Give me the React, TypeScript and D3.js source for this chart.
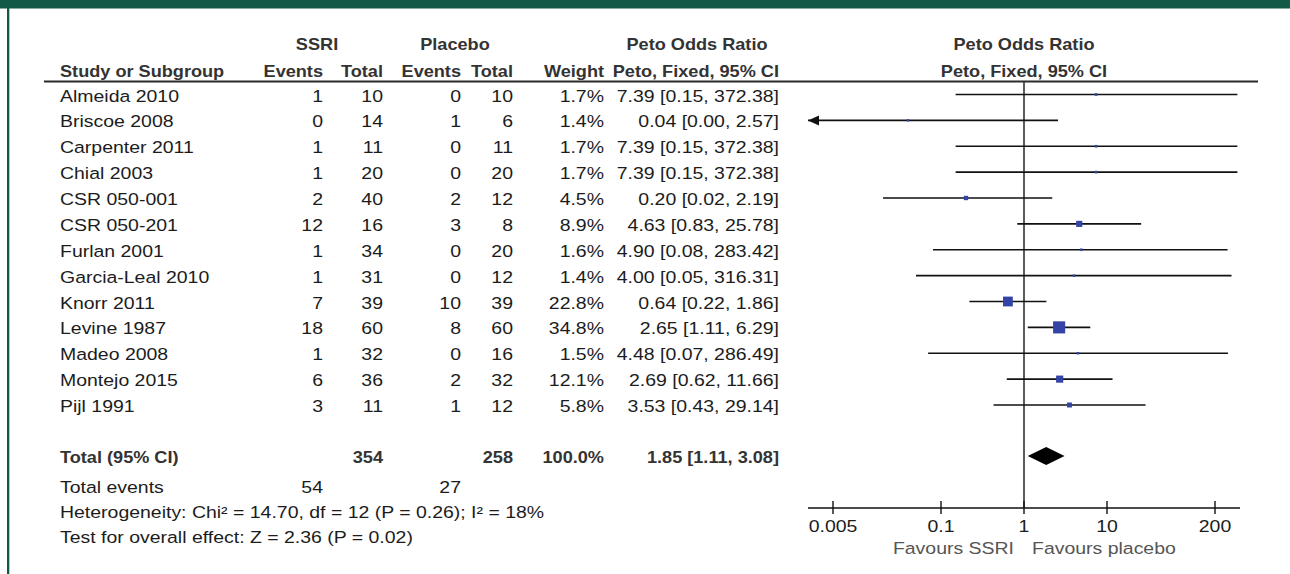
import React from 'react';
import * as d3 from 'd3';

const studies = [
  'Almeida 2010', 'Briscoe 2008', 'Carpenter 2011', 'Chial 2003', 'CSR 050-001', 'CSR 050-201',
  'Furlan 2001', 'Garcia-Leal 2010', 'Knorr 2011', 'Levine 1987', 'Madeo 2008', 'Montejo 2015', 'Pijl 1991',
];
const ssriEvents = [1, 0, 1, 1, 2, 12, 1, 1, 7, 18, 1, 6, 3];
const ssriTotal = [10, 14, 11, 20, 40, 16, 34, 31, 39, 60, 32, 36, 11];
const placeboEvents = [0, 1, 0, 0, 2, 3, 0, 0, 10, 8, 0, 2, 1];
const placeboTotal = [10, 6, 11, 20, 12, 8, 20, 12, 39, 60, 16, 32, 12];
const weights = [1.7, 1.4, 1.7, 1.7, 4.5, 8.9, 1.6, 1.4, 22.8, 34.8, 1.5, 12.1, 5.8];
const orEst = [7.39, 0.04, 7.39, 7.39, 0.2, 4.63, 4.9, 4.0, 0.64, 2.65, 4.48, 2.69, 3.53];
const orLow = [0.15, 0.0, 0.15, 0.15, 0.02, 0.83, 0.08, 0.05, 0.22, 1.11, 0.07, 0.62, 0.43];
const orHigh = [372.38, 2.57, 372.38, 372.38, 2.19, 25.78, 283.42, 316.31, 1.86, 6.29, 286.49, 11.66, 29.14];

const total = { ssri: 354, placebo: 258, weight: 100.0, est: 1.85, lo: 1.11, hi: 3.08 };
const totalEvents = { ssri: 54, placebo: 27 };
const heterogeneity = 'Heterogeneity: Chi² = 14.70, df = 12 (P = 0.26); I² = 18%';
const overallEffect = 'Test for overall effect: Z = 2.36 (P = 0.02)';

const tickValues = [0.005, 0.1, 1, 10, 200];
const tickLabels = ['0.005', '0.1', '1', '10', '200'];
const favours = ['Favours SSRI', 'Favours placebo'];

const GREEN = '#125a47';
const FONT = '"Liberation Sans", Arial, sans-serif';

const T = ({ x, y, anchor = 'start', bold = false, size = 16.5, fill = '#1c1c1c', children }: any) => (
  <text
    transform={`translate(${x},${y}) scale(${bold ? 1.1 : 1.18},1)`}
    textAnchor={anchor}
    fontWeight={bold ? 'bold' : 'normal'}
    fontSize={size}
    fill={fill}
    fontFamily={FONT}
  >
    {children}
  </text>
);

const fmt = (v: number) => v.toFixed(2);

export default function App() {
  const x = d3.scaleLog().domain([0.005, 200]).range([833, 1215]);
  const y = d3.scaleLinear().domain([0, studies.length - 1]).range([94.5, 405]);
  const clipLo = 0.0025;
  const clipHi = 400;
  const xMin = x(clipLo);
  const xMax = x(clipHi);
  const x1 = x(1);
  const axisY = 508;
  const totalY = 456;

  const col = { name: 60, sEv: 323, sTot: 383, pEv: 461, pTot: 513, w: 604, ci: 779 };
  const hdr = '#333';

  const diamond = d3.line()([
    [x(total.lo), totalY],
    [x(total.est), totalY - 9],
    [x(total.hi), totalY],
    [x(total.est), totalY + 9],
  ] as [number, number][]) as string;

  return (
    <svg width={1290} height={574} style={{ position: 'absolute', left: 0, top: 0, background: '#fff' }}>
      <rect x={0} y={0} width={1290} height={8.5} fill={GREEN} />
      <rect x={7} y={0} width={2.3} height={574} fill={GREEN} />

      {/* header */}
      <T x={317} y={50} anchor="middle" bold fill={hdr}>SSRI</T>
      <T x={455} y={50} anchor="middle" bold fill={hdr}>Placebo</T>
      <T x={697} y={50} anchor="middle" bold fill={hdr}>Peto Odds Ratio</T>
      <T x={x1} y={50} anchor="middle" bold fill={hdr}>Peto Odds Ratio</T>
      <T x={col.name} y={77} bold fill={hdr}>Study or Subgroup</T>
      <T x={col.sEv} y={77} anchor="end" bold fill={hdr}>Events</T>
      <T x={col.sTot} y={77} anchor="end" bold fill={hdr}>Total</T>
      <T x={col.pEv} y={77} anchor="end" bold fill={hdr}>Events</T>
      <T x={col.pTot} y={77} anchor="end" bold fill={hdr}>Total</T>
      <T x={col.w} y={77} anchor="end" bold fill={hdr}>Weight</T>
      <T x={col.ci} y={77} anchor="end" bold fill={hdr}>Peto, Fixed, 95% CI</T>
      <T x={x1} y={77} anchor="middle" bold fill={hdr}>Peto, Fixed, 95% CI</T>
      <line x1={44} x2={1258} y1={81.5} y2={81.5} stroke="#2a2a2a" strokeWidth={2} />

      {/* null line */}
      <line x1={x1} x2={x1} y1={82} y2={axisY} stroke="#333" strokeWidth={1.6} />

      {/* study rows */}
      {studies.map((s, i) => {
        const yy = y(i);
        const ty = yy + 7;
        const lo = Math.max(orLow[i], clipLo);
        const hi = Math.min(orHigh[i], clipHi);
        const side = 2.05 * Math.sqrt(weights[i]);
        return (
          <g key={s}>
            <T x={col.name} y={ty}>{s}</T>
            <T x={col.sEv} y={ty} anchor="end">{ssriEvents[i]}</T>
            <T x={col.sTot} y={ty} anchor="end">{ssriTotal[i]}</T>
            <T x={col.pEv} y={ty} anchor="end">{placeboEvents[i]}</T>
            <T x={col.pTot} y={ty} anchor="end">{placeboTotal[i]}</T>
            <T x={col.w} y={ty} anchor="end">{weights[i].toFixed(1)}%</T>
            <T x={col.ci} y={ty} anchor="end">{`${fmt(orEst[i])} [${fmt(orLow[i])}, ${fmt(orHigh[i])}]`}</T>
            <line x1={x(lo)} x2={x(hi)} y1={yy} y2={yy} stroke="#111" strokeWidth={1.7} />
            {orLow[i] < clipLo && (
              <path d={`M${xMin},${yy} l11,-5 v10 z`} fill="#111" />
            )}
            <rect x={x(orEst[i]) - side / 2} y={yy - side / 2} width={side} height={side} fill="#3343a6" />
          </g>
        );
      })}

      {/* total */}
      <T x={col.name} y={totalY + 7} bold fill={hdr}>Total (95% CI)</T>
      <T x={col.sTot} y={totalY + 7} anchor="end" bold fill={hdr}>{total.ssri}</T>
      <T x={col.pTot} y={totalY + 7} anchor="end" bold fill={hdr}>{total.placebo}</T>
      <T x={col.w} y={totalY + 7} anchor="end" bold fill={hdr}>{total.weight.toFixed(1)}%</T>
      <T x={col.ci} y={totalY + 7} anchor="end" bold fill={hdr}>{`${fmt(total.est)} [${fmt(total.lo)}, ${fmt(total.hi)}]`}</T>
      <path d={diamond} fill="#000" />

      <T x={col.name} y={493}>Total events</T>
      <T x={col.sEv} y={493} anchor="end">{totalEvents.ssri}</T>
      <T x={col.pEv} y={493} anchor="end">{totalEvents.placebo}</T>
      <T x={col.name} y={518}>{heterogeneity}</T>
      <T x={col.name} y={543}>{overallEffect}</T>

      {/* axis */}
      <line x1={xMin} x2={xMax} y1={axisY} y2={axisY} stroke="#111" strokeWidth={1.6} />
      {tickValues.map((t, i) => (
        <g key={t}>
          <line x1={x(t)} x2={x(t)} y1={axisY - 7} y2={axisY + 6} stroke="#111" strokeWidth={1.4} />
          <T x={x(t)} y={532} anchor="middle">{tickLabels[i]}</T>
        </g>
      ))}
      <T x={x1 - 10} y={554} anchor="end" fill="#555">{favours[0]}</T>
      <T x={x1 + 8} y={554} fill="#555">{favours[1]}</T>
    </svg>
  );
}
